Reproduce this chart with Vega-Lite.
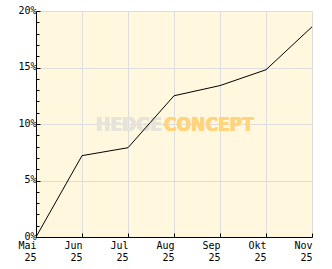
{
  "$schema": "https://vega.github.io/schema/vega-lite/v6.json",
  "width": 276,
  "height": 226,
  "autosize": {"type": "none"},
  "padding": {"left": 36, "top": 11, "right": 20, "bottom": 32},
  "background": "#FFFFFF",
  "config": {
    "view": {"fill": "#FFF7DE", "stroke": null},
    "axis": {"labelFont": "DejaVu Sans Mono", "labelFontSize": 10, "labelColor": "#000000"}
  },
  "data": {
    "values": [
      {"month": "Mai 25", "value": 0},
      {"month": "Jun 25", "value": 7.2},
      {"month": "Jul 25", "value": 7.9},
      {"month": "Aug 25", "value": 12.5},
      {"month": "Sep 25", "value": 13.4},
      {"month": "Okt 25", "value": 14.8},
      {"month": "Nov 25", "value": 18.6}
    ]
  },
  "layer": [
    {
      "mark": {"type": "text", "font": "DejaVu Sans Condensed", "fontWeight": "bold", "fontSize": 19, "align": "right", "baseline": "middle", "dx": -12, "dy": 1, "color": "#E6E3DA"},
      "encoding": {
        "x": {"datum": "Aug 25", "type": "ordinal"},
        "y": {"datum": 10, "type": "quantitative"},
        "text": {"value": "HEDGE"}
      }
    },
    {
      "mark": {"type": "text", "font": "DejaVu Sans Condensed", "fontWeight": "bold", "fontSize": 19, "align": "left", "baseline": "middle", "dx": -10, "dy": 1, "color": "#FFD47C"},
      "encoding": {
        "x": {"datum": "Aug 25", "type": "ordinal"},
        "y": {"datum": 10, "type": "quantitative"},
        "text": {"value": "CONCEPT"}
      }
    },
    {
      "mark": {"type": "line", "color": "#000000", "strokeWidth": 1},
      "encoding": {
        "x": {
          "field": "month", "type": "ordinal", "sort": null,
          "scale": {"type": "point", "padding": 0, "domain": ["Mai 25", "Jun 25", "Jul 25", "Aug 25", "Sep 25", "Okt 25", "Nov 25"]},
          "axis": {
            "title": null, "labelAngle": 0, "labelExpr": "split(datum.label, ' ')",
            "labelLineHeight": 12, "labelPadding": 7, "labelBaseline": "top",
            "labelFlush": false, "labelOverlap": false,
            "tickSize": -4, "tickColor": "#000000", "domainColor": "#000000",
            "grid": true, "gridColor": "#DDDDDD"
          }
        },
        "y": {
          "field": "value", "type": "quantitative",
          "scale": {"domain": [0, 20], "nice": false},
          "axis": {
            "title": null, "tickCount": 21,
            "values": [0,1,2,3,4,5,6,7,8,9,10,11,12,13,14,15,16,17,18,19,20],
            "labelExpr": "datum.value % 5 === 0 ? datum.value + '%' : ''",
            "labelPadding": 4, "labelOffset": -1, "labelFlush": false, "labelOverlap": false,
            "tickSize": {"condition": {"test": "datum.value % 5 === 0", "value": -4}, "value": -3},
            "tickColor": "#000000", "domainColor": "#000000",
            "grid": true, "gridColor": "#DDDDDD",
            "gridOpacity": {"condition": {"test": "datum.value % 5 === 0", "value": 1}, "value": 0}
          }
        }
      }
    }
  ]
}
